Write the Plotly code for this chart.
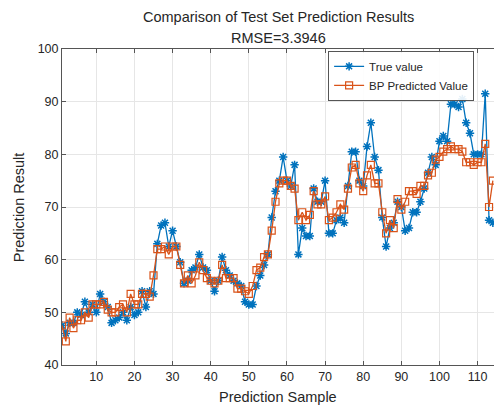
import plotly.graph_objects as go

samples = list(range(1, 115))

true_value = [
    47.5, 46, 48, 48, 50, 49.5, 52, 50, 51.5, 50,
    53.5, 52, 51, 48, 48.5, 49, 50, 48.5, 51, 49.5,
    50, 54, 51, 54, 53.5, 63, 66.5, 67, 62.5, 65.5,
    62.5, 59.5, 55.5, 56, 58, 58.5, 61, 58.5, 58, 56,
    54, 56, 60.5, 58, 57, 56, 55.5, 55, 52, 51.5,
    51.5, 55, 57, 59, 61, 68, 73, 75, 79.5, 75,
    74, 78, 61, 66, 64.5, 64.5, 73.5, 71, 71, 75,
    65, 65, 67.5, 68, 67, 74, 80.5, 80.5, 75, 74,
    81.5, 86, 79.5, 77, 68, 62.5, 66, 67, 71, 70,
    65.5, 66, 69, 69, 71, 73.5, 76.5, 79.5, 78, 82.5,
    83.5, 82.5, 89.5, 89.5, 89, 90.5, 86, 84, 80, 80,
    80, 91.5, 67.5, 67,
]

bp_predicted = [
    47.5, 44.5, 49, 47, 48.5, 48.5, 50, 49, 51.5, 51.5,
    51.5, 52, 50.5, 50, 50, 51, 51.5, 50, 53.5, 51.5,
    51.5, 53.5, 53.5, 53, 57, 62, 62, 62.5, 61, 62.5,
    62.5, 59, 55.5, 57, 55.5, 57, 59.5, 58, 56.5, 56,
    55.5, 56, 59, 56.5, 56.5, 56.5, 54.5, 54.5, 54, 53.5,
    55, 58, 58.5, 60.5, 61, 65.5, 71, 74.5, 75, 75,
    74, 73.5, 67.5, 69, 67.5, 68.5, 73, 70.5, 70.5, 72,
    67.5, 68, 69, 70.5, 69.5, 73.5, 77.5, 78, 74.5, 73,
    76, 78, 74.5, 74.5, 69, 65, 67.5, 66, 71.5, 69.5,
    71, 73, 73, 72.5, 74, 74, 76, 76.5, 79, 79.5,
    80.5, 81, 81.5, 81, 81, 80.5, 78.5, 78.5, 78, 78.5,
    78.5, 82, 70, 75,
]

x_ticks = [10, 20, 30, 40, 50, 60, 70, 80, 90, 100, 110]
y_ticks = [40, 50, 60, 70, 80, 90, 100]

BLUE = "#0072BD"
ORANGE = "#D95319"
TXT = "#262626"
FONT = "Liberation Sans, Arial, sans-serif"

fig = go.Figure()
fig.add_trace(go.Scatter(
    x=samples, y=true_value, name="True value", mode="lines+markers",
    line=dict(color=BLUE, width=1.3),
    marker=dict(symbol="asterisk-open", size=7, color=BLUE, line=dict(color=BLUE, width=1.5)),
))
fig.add_trace(go.Scatter(
    x=samples, y=bp_predicted, name="BP Predicted Value", mode="lines+markers",
    line=dict(color=ORANGE, width=1.3),
    marker=dict(symbol="square-open", size=7, color=ORANGE, line=dict(color=ORANGE, width=1.2)),
))

fig.update_layout(
    width=494, height=405,
    margin=dict(l=62, r=0, t=49, b=40),
    paper_bgcolor="white", plot_bgcolor="white",
    font=dict(family=FONT, size=12, color=TXT),
    showlegend=True,
    legend=dict(
        x=0.616, y=0.915, xanchor="left", yanchor="middle",
        bgcolor="rgba(255,255,255,0.9)", bordercolor="#555555", borderwidth=1,
        font=dict(size=11.5, color=TXT),
        tracegroupgap=0,
    ),
    annotations=[
        dict(text="Comparison of Test Set Prediction Results", x=0.5, y=1.101,
             xref="paper", yref="paper", showarrow=False, xanchor="center",
             yanchor="middle", font=dict(size=14.5, color=TXT)),
        dict(text="RMSE=3.3946", x=0.5, y=1.035,
             xref="paper", yref="paper", showarrow=False, xanchor="center",
             yanchor="middle", font=dict(size=14.5, color=TXT)),
        dict(text="Prediction Sample", x=0.5, y=-0.101,
             xref="paper", yref="paper", showarrow=False, xanchor="center",
             yanchor="middle", font=dict(size=14.5, color=TXT)),
        dict(text="Prediction Result", x=-0.099, y=0.5, textangle=-90,
             xref="paper", yref="paper", showarrow=False, xanchor="center",
             yanchor="middle", font=dict(size=14.5, color=TXT)),
    ],
)

fig.update_xaxes(
    range=[1, 114.3], tickvals=x_ticks, ticks="inside", ticklen=4,
    tickcolor="#555555", showline=True, linecolor="#555555", linewidth=1,
    mirror="ticks", showgrid=True, gridcolor="#e6e6e6", gridwidth=1,
    zeroline=False, tickfont=dict(size=12.5, color=TXT),
)
fig.update_yaxes(
    range=[40, 100], tickvals=y_ticks, ticks="inside", ticklen=4,
    tickcolor="#555555", showline=True, linecolor="#555555", linewidth=1,
    mirror=False, showgrid=True, gridcolor="#e6e6e6", gridwidth=1,
    zeroline=False, tickfont=dict(size=12.5, color=TXT),
)

fig.write_html("out.html")
